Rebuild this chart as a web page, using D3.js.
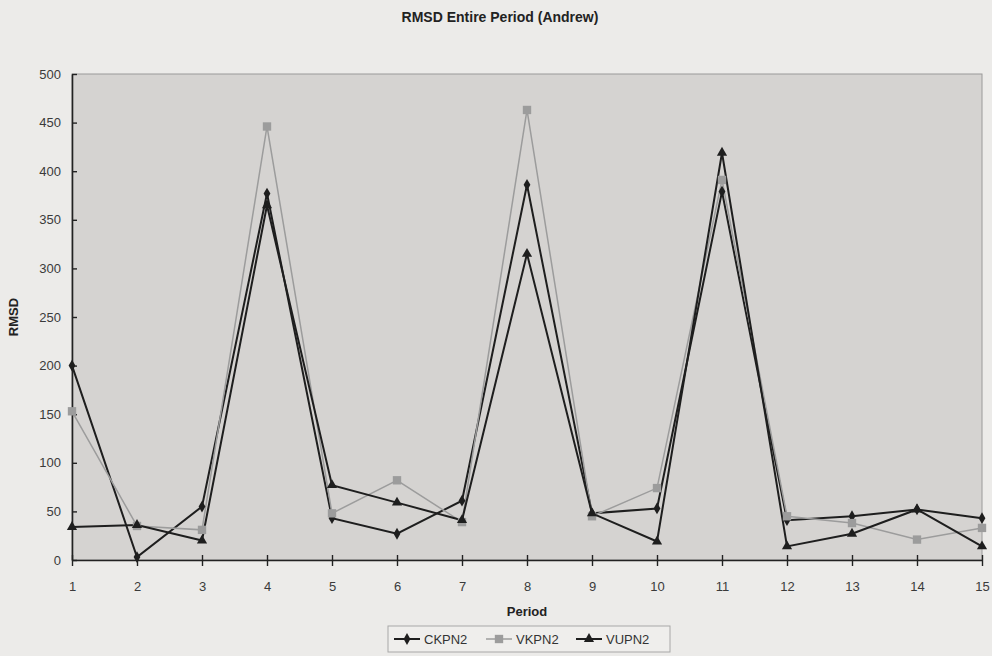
<!DOCTYPE html>
<html>
<head>
<meta charset="utf-8">
<script src="https://cdn.jsdelivr.net/npm/d3@7"></script>
<style>
body { margin: 0; background: #ecebe9; }
text { font-family: "Liberation Sans", Arial, sans-serif; }
</style>
</head>
<body>
<div id="chart"></div>
<script>
let periods = [1,2,3,4,5,6,7,8,9,10,11,12,13,14,15];
let ckpn2 = [200, 3, 55, 377, 43, 27, 61, 386, 48, 53, 379, 41, 45, 52, 43];
let vkpn2 = [153, 35, 31, 446, 48, 82, 39, 463, 45, 74, 391, 45, 38, 21, 33];
let vupn2 = [34, 36, 20, 365, 77, 59, 41, 315, 48, 19, 419, 14, 27, 52, 14];
let y_ticks = [0,50,100,150,200,250,300,350,400,450,500];

let svg = d3.select("#chart").append("svg").attr("width", 992).attr("height", 656);

svg.append("rect").attr("width", 992).attr("height", 656).attr("fill", "#ecebe9");

let x_scale = d3.scaleLinear().domain([1,15]).range([72, 982]);
let y_scale = d3.scaleLinear().domain([0,500]).range([560, 74]);

// plot area
svg.append("rect")
    .attr("x", 72).attr("y", 74)
    .attr("width", 910).attr("height", 486)
    .attr("fill", "#d5d3d1")
    .attr("stroke", "#9a9a9a")
    .attr("stroke-width", 1);

// axes, ticks cross the line like in excel
let y_axis = d3.axisLeft(y_scale).tickValues(y_ticks).tickSizeInner(5).tickSizeOuter(0).tickPadding(6);
let gy = svg.append("g").attr("transform", "translate(72,0)").call(y_axis);
gy.selectAll(".tick line").attr("x2", 5);

let x_axis = d3.axisBottom(x_scale).tickValues(periods).tickSizeInner(6).tickSizeOuter(0).tickPadding(16);
let gx = svg.append("g").attr("transform", "translate(0,560)").call(x_axis);
gx.selectAll(".tick line").attr("y1", -5);

svg.selectAll(".domain").attr("stroke", "#222").attr("stroke-width", 1.6);
svg.selectAll(".tick line").attr("stroke", "#222").attr("stroke-width", 1.4);
svg.selectAll(".tick text").attr("fill", "#3a3a3a").style("font-size", "13px")
    .style("font-family", "'Liberation Sans', Arial, sans-serif");

// titles
svg.append("text").attr("x", 500).attr("y", 22).attr("text-anchor", "middle")
    .style("font-size", "14px").style("font-weight", "bold").attr("fill", "#222")
    .text("RMSD Entire Period (Andrew)");
svg.append("text").attr("transform", "translate(18,317) rotate(-90)").attr("text-anchor", "middle")
    .style("font-size", "13px").style("font-weight", "bold").attr("fill", "#222")
    .text("RMSD");
svg.append("text").attr("x", 527).attr("y", 616).attr("text-anchor", "middle")
    .style("font-size", "13px").style("font-weight", "bold").attr("fill", "#222")
    .text("Period");

let series = [
    {name: "CKPN2", values: ckpn2, color: "#1e1e1e", width: 2, shape: d3.symbolDiamond, size: 40},
    {name: "VKPN2", values: vkpn2, color: "#9c9c9c", width: 1.5, shape: d3.symbolSquare, size: 70},
    {name: "VUPN2", values: vupn2, color: "#1e1e1e", width: 2, shape: d3.symbolTriangle, size: 45}
];

let line = d3.line()
    .x(function(d, i) { return x_scale(periods[i]) })
    .y(function(d) { return y_scale(d) });

for (const s of series) {
    svg.append("path")
        .datum(s.values)
        .attr("fill", "none")
        .attr("stroke", s.color)
        .attr("stroke-width", s.width)
        .attr("d", line);
}
for (const s of series) {
    svg.append("g").selectAll("path")
        .data(s.values)
        .join("path")
        .attr("transform", function(d, i) { return "translate(" + x_scale(periods[i]) + "," + y_scale(d) + ")" })
        .attr("d", d3.symbol().type(s.shape).size(s.size))
        .attr("fill", s.color);
}

// legend
let legend = svg.append("g").attr("transform", "translate(388,626)");
legend.append("rect").attr("width", 282).attr("height", 26)
    .attr("fill", "#efeeec").attr("stroke", "#a8a8a8").attr("stroke-width", 1);
let offsets = [6, 98, 188];
series.forEach(function(s, i) {
    let g = legend.append("g").attr("transform", "translate(" + offsets[i] + ",13)");
    g.append("line").attr("x1", 0).attr("x2", 26).attr("stroke", s.color).attr("stroke-width", s.width);
    g.append("path").attr("transform", "translate(13,0)")
        .attr("d", d3.symbol().type(s.shape).size(s.size)).attr("fill", s.color);
    g.append("text").attr("x", 30).attr("y", 5).style("font-size", "13px").attr("fill", "#333").text(s.name);
});
</script>
</body>
</html>
